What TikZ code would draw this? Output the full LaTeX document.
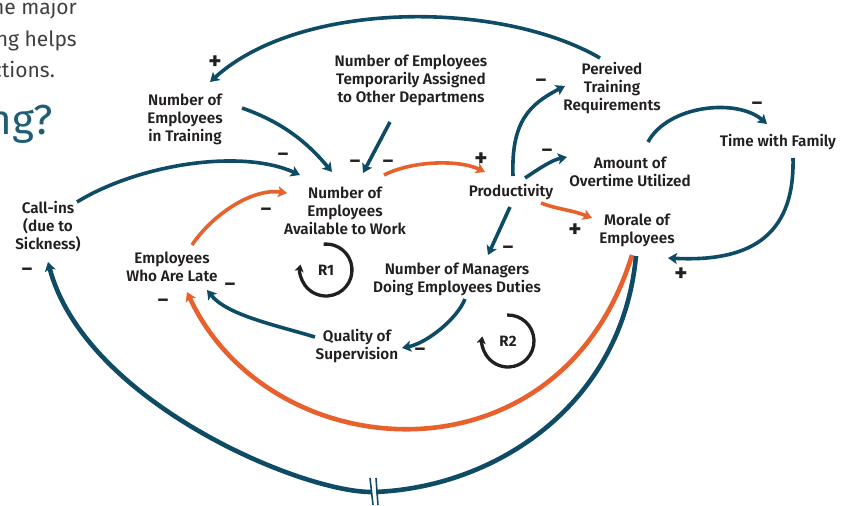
\documentclass[tikz,border=0pt]{standalone}
\usepackage{fontspec}
\setmainfont{Fira Sans}[UprightFont={* SemiBold}]
\newfontfamily\slidefont{Fira Sans}
\newfontfamily\signfont{Fira Sans}
\usetikzlibrary{arrows.meta}

\definecolor{loopblue}{HTML}{0E4C66}
\definecolor{looporange}{HTML}{E8602C}
\definecolor{ink}{HTML}{231F20}
\definecolor{slidegray}{HTML}{3F3F3F}
\definecolor{slideblue}{HTML}{1F5E74}

\tikzset{
  var/.style={align=center, text=ink, inner sep=0pt, font=\fontsize{15.3}{18}\selectfont},
  sgn/.style={text=ink, inner sep=0pt, font=\signfont\bfseries\fontsize{20}{20}\selectfont},
  plus/.style={sgn, font=\signfont\bfseries\fontsize{25}{25}\selectfont},
  bluelink/.style={draw=loopblue, line width=3.6pt, -{Stealth[length=9pt,width=11pt,inset=2pt]}},
  redlink/.style={bluelink, draw=looporange},
  wide/.style={line width=4.6pt},
  loopmark/.style={circle, minimum size=52pt, inner sep=0pt, outer sep=0pt, text=ink,
    font=\signfont\bfseries\fontsize{15}{15}\selectfont},
  looparc/.style={draw=ink, line width=3.3pt, -{Stealth[length=7pt,width=9pt,inset=1.5pt]}},
  delaymark/.style={draw=loopblue, line width=1.6pt},
  slidetext/.style={inner sep=0pt, text=slidegray, font=\slidefont\fontsize{21}{21}\selectfont}
}

\begin{document}
\begin{tikzpicture}[x=1pt,y=-1pt]
\useasboundingbox (0,0) rectangle (855,506);
\clip (0,0) rectangle (855,506);

% slide text cut off at the left
\node[slidetext, anchor=base east] (intro1) at (77,15) {he major};
\node[slidetext, anchor=base east] (intro2) at (77,46) {ng helps};
\node[slidetext, anchor=base east] (intro3) at (55,77) {ctions.};
\node[slidetext, anchor=base east, text=slideblue, font=\slidefont\fontsize{42}{42}\selectfont] (heading) at (53,134) {ng?};

% variables
\node[var] (train) at (185,119) {Number of\\Employees\\in Training};
\node[var] (temp) at (411,80) {Number of Employees\\Temporarily Assigned\\to Other Departmens};
\node[var] (pereived) at (612,88) {Pereived\\Training\\Requirements};
\node[var] (family) at (778,142) {Time with Family};
\node[var] (overtime) at (630,172) {Amount of\\Overtime Utilized};
\node[var] (prod) at (511,192) {Productivity};
\node[var] (morale) at (637,230) {Morale of\\Employees};
\node[var] (avail) at (345,211) {Number of\\Employees\\Available to Work};
\node[var] (callins) at (48,227) {Call-ins\\(due to\\Sickness)};
\node[var] (late) at (172,267) {Employees\\Who Are Late};
\node[var] (managers) at (457,279) {Number of Managers\\Doing Employees Duties};
\node[var] (quality) at (357,346) {Quality of\\Supervision};
\coordinate (delaypt) at (374,492);

% loop markers
\node[loopmark] (r1) at (326,270) {R1};
\draw[looparc] (r1.95) arc[start angle=95, end angle=-192, radius=26pt];
\node[loopmark] (r2) at (508,341) {R2};
\draw[looparc] (r2.92) arc[start angle=92, end angle=-190, radius=26pt];

% links
\draw[bluelink] ([shift={(-12,-30)}]pereived.center) .. controls +(-100,-58) and +(90,-82) .. ([shift={(25,-37)}]train.center);
\draw[bluelink] ([shift={(57,-11)}]train.center) .. controls +(40,14) and +(-25,-30) .. ([shift={(-13,-39)}]avail.center);
\draw[bluelink] ([shift={(-21,42)}]temp.center) -- ([shift={(18,-38)}]avail.center);
\draw[redlink] ([shift={(39,-36)}]avail.center) .. controls +(30,-15) and +(-25,-12) .. ([shift={(-26,-20)}]prod.center);
\draw[bluelink] ([shift={(29,-25)}]callins.center) .. controls +(60,-37) and +(-60,-27) .. ([shift={(-45,-36)}]avail.center);
\draw[redlink] ([shift={(20,-22)}]late.center) .. controls +(20,-30) and +(-35,-5) .. ([shift={(-58,-18)}]avail.center);
\draw[bluelink] ([shift={(2,-16)}]prod.center) .. controls +(-2,-55) and +(-35,18) .. ([shift={(-47,-2)}]pereived.center);
\draw[bluelink] ([shift={(14,-14)}]prod.center) .. controls +(15,-10) and +(-15,3) .. ([shift={(-63,-15)}]overtime.center);
\draw[redlink] ([shift={(30,11)}]prod.center) .. controls +(15,6) and +(-20,-8) .. ([shift={(-45,-12)}]morale.center);
\draw[bluelink] ([shift={(-1,15)}]prod.center) -- ([shift={(31,-24)}]managers.center);
\draw[bluelink] ([shift={(18,-30)}]overtime.center) .. controls +(20,-37) and +(-30,-26) .. ([shift={(-11,-18)}]family.center);
\draw[bluelink] ([shift={(15,16)}]family.center) .. controls +(2,82) and +(77,4) .. ([shift={(31,28)}]morale.center);
\draw[bluelink] ([shift={(8,20)}]managers.center) .. controls +(-8,20) and +(25,-5) .. ([shift={(45,2)}]quality.center);
\draw[bluelink] ([shift={(-42,-9)}]quality.center) .. controls +(-40,-12) and +(20,25) .. ([shift={(35,23)}]late.center);
\draw[redlink, wide] ([shift={(-5,25)}]morale.center) .. controls +(-72,235) and +(83,178) .. ([shift={(15,25)}]late.center);
\draw[bluelink, wide] ([shift={(-1,26)}]morale.center) .. controls +(-14,150) and +(120,-4) .. (delaypt)
  .. controls +(-70,2) and +(37,140) .. ([shift={(0,35)}]callins.center);

% delay
\draw[white, line width=4pt] ([shift={(-1,-10)}]delaypt) -- ([shift={(1,10)}]delaypt);
\draw[delaymark] ([shift={(-4,-14)}]delaypt) -- ([shift={(-1,13)}]delaypt);
\draw[delaymark] ([shift={(2,-14)}]delaypt) -- ([shift={(4,13)}]delaypt);

% polarities
\node[plus] (s1) at (215,63) {+};
\node[sgn] (s2) at (283,157) {–};
\node[sgn] (s3) at (355,164) {–};
\node[sgn] (s4) at (388,164) {–};
\node[plus] (s5) at (481,160) {+};
\node[sgn] (s6) at (266,212) {–};
\node[sgn] (s7) at (541,83) {–};
\node[sgn] (s8) at (547,153) {–};
\node[plus] (s9) at (575,231) {+};
\node[sgn] (s10) at (508,250) {–};
\node[sgn] (s11) at (757,106) {–};
\node[plus] (s12) at (681,275) {+};
\node[sgn] (s13) at (420,352) {–};
\node[sgn] (s14) at (230,287) {–};
\node[sgn] (s15) at (163,303) {–};
\node[sgn] (s16) at (27,272) {–};
\end{tikzpicture}
\end{document}
